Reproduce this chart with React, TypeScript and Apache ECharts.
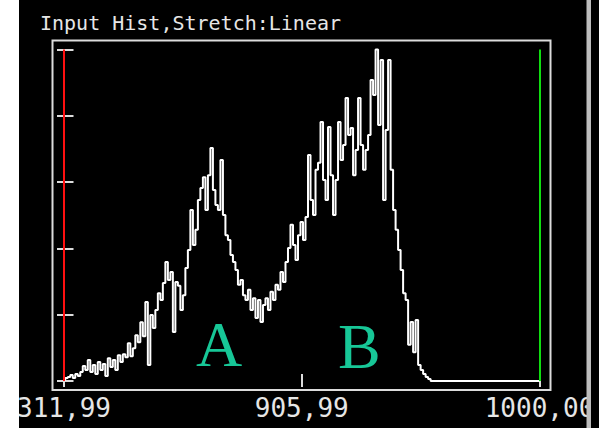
import React, { useEffect, useRef } from "react";
import * as echarts from "echarts";

// Histogram of the input band, one value per bin (percent of the tallest bin).
const binCounts: number[] = [
  0.3, 0.9, 1.2, 1.8, 0.9, 2.1, 1.5, 2.7, 4.5, 3.3,
  6.3, 2.7, 4.8, 2.1, 5.7, 3.3, 5.1, 1.5, 6.9, 4.2,
  6.3, 3.3, 7.8, 5.7, 8.1, 7.2, 11.4, 7.5, 9.9, 13.8,
  11.7, 17.7, 13.5, 23.8, 4.8, 19.9, 16.0, 21.4, 26.5, 24.4,
  29.6, 35.9, 30.5, 32.9, 14.8, 29.9, 28.7, 21.4, 25.9, 34.1,
  39.5, 51.6, 41.0, 45.6, 54.6, 58.2, 61.5, 51.6, 62.1, 70.3,
  57.6, 53.1, 51.6, 66.7, 50.1, 44.0, 42.5, 38.0, 35.9, 33.5,
  29.0, 30.5, 25.9, 24.4, 27.5, 21.4, 25.0, 19.0, 24.4, 17.8,
  22.9, 25.0, 21.4, 26.9, 24.4, 29.0, 27.5, 32.9, 29.9, 35.9,
  40.1, 47.1, 41.0, 36.5, 44.0, 48.0, 42.5, 49.5, 68.2, 54.6,
  50.1, 63.7, 65.8, 78.1, 60.6, 54.6, 76.6, 62.1, 50.1, 60.6,
  78.1, 66.7, 71.2, 85.4, 74.2, 76.3, 62.1, 69.7, 85.4, 71.2,
  63.7, 69.7, 74.2, 90.8, 86.3, 100.0, 77.2, 96.8, 54.6, 75.7,
  96.8, 63.7, 51.6, 45.6, 39.5, 33.5, 26.5, 24.4, 10.9, 17.8,
  8.7, 18.4, 4.8, 3.3, 2.1, 1.2, 0.6, 0, 0, 0,
  0, 0, 0, 0, 0, 0, 0, 0, 0, 0,
  0, 0, 0, 0, 0, 0, 0, 0, 0, 0,
  0, 0, 0, 0, 0, 0, 0, 0, 0, 0,
  0, 0, 0, 0, 0, 0, 0, 0, 0, 0,
  0,
];

// Data values shown under the min, middle and max bins.
const tickLabels: string[] = ["311,99", "905,99", "1000,00"];

// Stretch limits, as bin indices.
const stretchMin = 0;
const stretchMax = 190;

const title = "Input Hist,Stretch:Linear";
const peakLabels = ["A", "B"];

const FRAME = "#dcdcdc";
const TEXT = "#e6e6e6";
const MONO = "'DejaVu Sans Mono', monospace";

export default function App() {
  const ref = useRef<HTMLDivElement>(null);

  useEffect(() => {
    if (!ref.current) return;
    const chart = echarts.init(ref.current, null, { renderer: "svg" });
    const lastBin = binCounts.length - 1;
    const midBin = lastBin / 2;

    chart.setOption({
      animation: false,
      backgroundColor: "#ffffff",
      title: {
        text: title,
        left: 35,
        top: 8,
        textStyle: {
          color: TEXT,
          fontFamily: MONO,
          fontSize: 20,
          fontWeight: "normal",
        },
      },
      grid: { left: 64, right: 59.5, top: 49.5, bottom: 47 },
      xAxis: [
        {
          type: "value",
          position: "bottom",
          min: 0,
          max: lastBin,
          interval: midBin,
          offset: 9,
          axisLine: { show: false },
          splitLine: { show: false },
          axisTick: {
            show: true,
            inside: true,
            length: 7,
            lineStyle: { color: FRAME, width: 2 },
          },
          axisLabel: {
            show: true,
            margin: 5,
            color: TEXT,
            fontFamily: MONO,
            fontSize: 26,
            showMinLabel: true,
            showMaxLabel: true,
            formatter: (v: number) => tickLabels[Math.round(v / midBin)] ?? "",
          },
        },
        {
          type: "value",
          position: "top",
          min: 0,
          max: lastBin,
          interval: midBin,
          offset: 9,
          axisLine: { show: false },
          splitLine: { show: false },
          axisLabel: { show: false },
          axisTick: {
            show: true,
            inside: true,
            length: 6,
            lineStyle: { color: FRAME, width: 2 },
          },
        },
      ],
      yAxis: [
        {
          type: "value",
          position: "left",
          min: 0,
          max: 100,
          interval: 20,
          offset: 11.5,
          axisLine: { show: false },
          splitLine: { show: false },
          axisLabel: { show: false },
          axisTick: {
            show: true,
            inside: true,
            length: 9.5,
            lineStyle: { color: FRAME, width: 2 },
          },
        },
        {
          type: "value",
          position: "right",
          min: 0,
          max: 100,
          interval: 20,
          offset: 11,
          axisLine: { show: false },
          splitLine: { show: false },
          axisLabel: { show: false },
          axisTick: {
            show: true,
            inside: true,
            length: 7,
            lineStyle: { color: FRAME, width: 2 },
          },
        },
      ],
      series: [
        {
          type: "line",
          xAxisIndex: 0,
          yAxisIndex: 0,
          step: "middle",
          symbol: "none",
          clip: false,
          z: 3,
          lineStyle: { color: "#ffffff", width: 2 },
          data: binCounts.map((v, i) => [i, v]),
          markLine: {
            silent: true,
            symbol: "none",
            label: { show: false },
            data: [
              { xAxis: stretchMin, lineStyle: { color: "#ff1010", width: 2, type: "solid" } },
              { xAxis: stretchMax, lineStyle: { color: "#10dd10", width: 2, type: "solid" } },
            ],
          },
        },
      ],
      graphic: [
        // dark panel behind the plot
        { type: "rect", z: -10, shape: { x: 19, y: 0, width: 580, height: 428 }, style: { fill: "#000000" } },
        // plot frame
        {
          type: "rect",
          z: 1,
          shape: { x: 52.5, y: 40.5, width: 498, height: 349.5 },
          style: { fill: "none", stroke: FRAME, lineWidth: 2 },
        },
        // peak annotations
        {
          type: "text",
          z: 5,
          x: 196,
          y: 312,
          style: {
            text: peakLabels[0],
            fill: "#17c797",
            font: "64px 'Liberation Serif', serif",
          },
        },
        {
          type: "text",
          z: 5,
          x: 338,
          y: 314,
          style: {
            text: peakLabels[1],
            fill: "#17c797",
            font: "64px 'Liberation Serif', serif",
          },
        },
        // window edges
        { type: "rect", z: 100, shape: { x: 0, y: 0, width: 19, height: 428 }, style: { fill: "#ffffff" } },
        { type: "rect", z: 100, shape: { x: 591, y: 0, width: 8, height: 428 }, style: { fill: "#000000" } },
        { type: "rect", z: 101, shape: { x: 586.5, y: 0, width: 4.5, height: 428 }, style: { fill: "#bdbdbd" } },
      ],
    });

    return () => chart.dispose();
  }, []);

  return (
    <div
      ref={ref}
      style={{ position: "fixed", left: 0, top: 0, width: 599, height: 428 }}
    />
  );
}
